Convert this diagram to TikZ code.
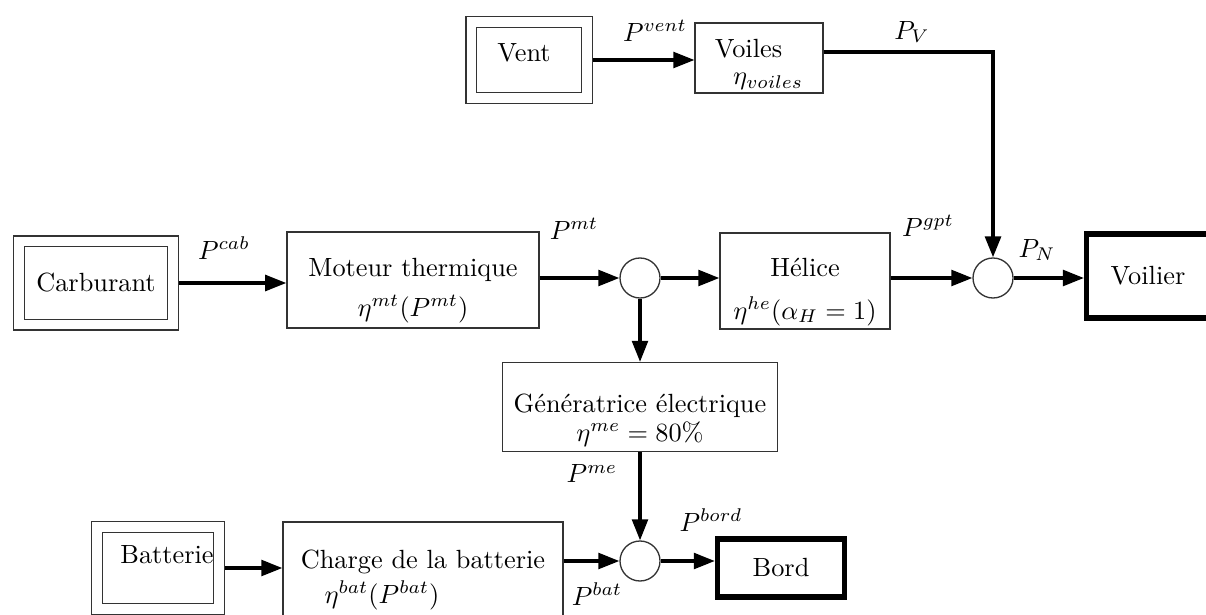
\documentclass[tikz,border=0pt]{standalone}
\usepackage{amsmath,amssymb}
\usepackage{tikz}
\usetikzlibrary{arrows.meta, positioning, calc}

\begin{document}
\begin{tikzpicture}[
  x=0.38pt, y=-0.38pt,
  block/.style={
    rectangle, draw=black!80, line width=0.5pt,
    inner sep=2pt, text centered
  },
  source/.style={
    block, double, double distance=3.6pt, outer sep=2.3pt
  },
  sink/.style={
    rectangle, draw=black, line width=2pt, text centered
  },
  junction/.style={
    circle, draw=black!80, line width=0.5pt, minimum size=15.2pt, inner sep=0pt
  },
  flow/.style={
    line width=1.2pt, -{Triangle[length=8pt,width=6pt]}
  },
  plabel/.style={inner sep=0pt},
  btext/.style={inner sep=0pt, align=center}
]
  \useasboundingbox (0,0) rectangle (1206,614);
  \clip (0,0) rectangle (1206,614);

  % Sources
  \node[source, minimum width=58.5pt, minimum height=31.7pt]
        (carb) at (96,283) {Carburant};
  \node[source, minimum width=43.9pt, minimum height=28.9pt]
        (vent) at (529,60) {};
  \node[plabel] (vent-txt) at (524,53) {Vent};
  \node[source, minimum width=46.2pt, minimum height=31.2pt]
        (batt) at (158,568) {};
  \node[plabel] (batt-txt) at (167,555) {Batterie};

  % Conversion blocks
  \node[block, minimum width=48.6pt, minimum height=26.6pt] (voiles) at (759,58) {};
  \node[btext, align=left] (voiles-txt) at ([yshift=-2.5pt]voiles.center)
        {Voiles\\[-2pt]\hspace*{7pt}$\eta_{voiles}$};
  \node[block, minimum width=95.8pt, minimum height=36.5pt] (mot) at (413,280) {};
  \node[btext] (mot-txt) at ([yshift=-4pt]mot.center)
        {Moteur thermique\\[3pt]$\eta^{mt}(P^{mt})$};
  \node[block, minimum width=64.6pt, minimum height=36.5pt] (hel) at (805,281) {};
  \node[btext] (hel-txt) at ([yshift=-4.2pt]hel.center)
        {H\'elice\\[4pt]$\eta^{he}(\alpha_H=1)$};
  \node[block, minimum width=104.5pt, minimum height=33.8pt] (gen) at (640,407) {};
  \node[btext] (gen-txt) at ([yshift=-5pt]gen.center)
        {G\'en\'eratrice \'electrique\\[-1pt]$\eta^{me}=80\%$};
  \node[block, minimum width=106.4pt, minimum height=44pt] (charge) at (423,580) {};
  \node[btext, align=left] (charge-txt) at (charge.center)
        {Charge de la batterie\\[1pt]\hspace*{9pt}$\eta^{bat}(P^{bat})$};

  % Sinks
  \node[sink, minimum width=46.7pt, minimum height=31.9pt]
        (voilier) at (1148,276) {Voilier};
  \node[sink, minimum width=48.3pt, minimum height=22pt]
        (bord) at (781,568) {Bord};

  % Junctions
  \node[junction] (c1) at (640,278) {};
  \node[junction] (c2) at (993,278) {};
  \node[junction] (c3) at (640,561) {};

  % Power flows
  \draw[flow] (carb.east) -- (carb.east -| mot.west);
  \draw[flow] (mot.east |- c1) -- (c1.west);
  \draw[flow] (c1.east) -- (c1.east -| hel.west);
  \draw[flow] (hel.east |- c2) -- (c2.west);
  \draw[flow] (c2.east) -- (c2.east -| voilier.west);
  \draw[flow] (vent.east) -- (vent.east -| voiles.west);
  \draw[flow, line width=1.4pt] ([yshift=2.3pt]voiles.east) -| (c2.north);
  \draw[flow] (c1.south) -- (c1.south |- gen.north);
  \draw[flow] (gen.south -| c3) -- (c3.north);
  \draw[flow] (batt.east) -- (batt.east -| charge.west);
  \draw[flow] (charge.east |- c3) -- (c3.west);
  \draw[flow] (c3.east) -- (c3.east -| bord.west);

  % Power labels
  \node[plabel] (l-cab)  at (224,248) {$P^{cab}$};
  \node[plabel] (l-vent) at (655,31)  {$P^{vent}$};
  \node[plabel] (l-v)    at (912,32)  {$P_V$};
  \node[plabel] (l-mt)   at (574,229) {$P^{mt}$};
  \node[plabel] (l-gpt)  at (928,226) {$P^{gpt}$};
  \node[plabel] (l-n)    at (1037,250) {$P_N$};
  \node[plabel] (l-me)   at (592,474) {$P^{me}$};
  \node[plabel] (l-bord) at (711,520) {$P^{bord}$};
  \node[plabel] (l-bat)  at (597,594) {$P^{bat}$};
\end{tikzpicture}
\end{document}
